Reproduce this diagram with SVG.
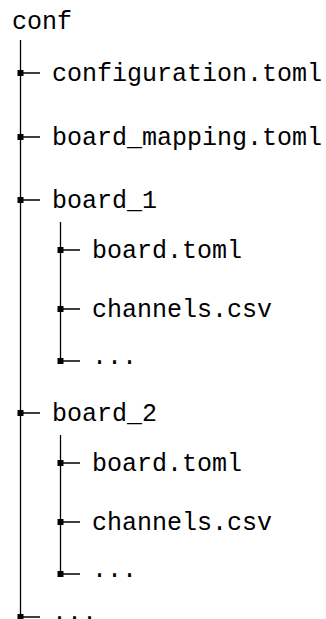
<svg xmlns="http://www.w3.org/2000/svg" width="326" height="619" viewBox="0 0 326 619">
<style>
text{font-family:"Liberation Mono","DejaVu Sans Mono",monospace;font-size:25px;fill:#000}
.ln{stroke:#000;stroke-width:1.3;fill:none}
.mk{fill:#000}
</style>
<rect width="326" height="619" fill="#fff"/>
<g id="connectors">
<path class="ln" d="M20.5 40V617"/>
<path class="ln" d="M60.5 222V361"/>
<path class="ln" d="M60.5 435V574"/>
<path class="ln" d="M20.5 73H40M20.5 137H40M20.5 200H40M20.5 413H40M20.5 617H40"/>
<path class="ln" d="M60.5 250H80M60.5 309H80M60.5 361H80M60.5 463H80M60.5 522H80M60.5 574H80"/>
<g class="mk">
<rect x="17.5" y="70" width="6" height="6"/>
<rect x="17.5" y="134" width="6" height="6"/>
<rect x="17.5" y="197" width="6" height="6"/>
<rect x="17.5" y="410" width="6" height="6"/>
<rect x="17.5" y="614" width="6" height="6"/>
<rect x="57.5" y="247" width="6" height="6"/>
<rect x="57.5" y="306" width="6" height="6"/>
<rect x="57.5" y="358" width="6" height="6"/>
<rect x="57.5" y="460" width="6" height="6"/>
<rect x="57.5" y="519" width="6" height="6"/>
<rect x="57.5" y="571" width="6" height="6"/>
</g>
</g>
<g id="conf"><text x="12" y="29">conf</text></g>
<g id="configuration"><text x="52" y="81">configuration.toml</text></g>
<g id="board_mapping"><text x="52" y="145">board_mapping.toml</text></g>
<g id="board_1"><text x="52" y="208">board_1</text></g>
<g id="b1_board"><text x="92" y="258">board.toml</text></g>
<g id="b1_channels"><text x="92" y="317">channels.csv</text></g>
<g id="b1_more"><text x="92" y="364">...</text></g>
<g id="board_2"><text x="52" y="421">board_2</text></g>
<g id="b2_board"><text x="92" y="471">board.toml</text></g>
<g id="b2_channels"><text x="92" y="530">channels.csv</text></g>
<g id="b2_more"><text x="92" y="577">...</text></g>
<g id="more"><text x="52" y="620">...</text></g>
</svg>
